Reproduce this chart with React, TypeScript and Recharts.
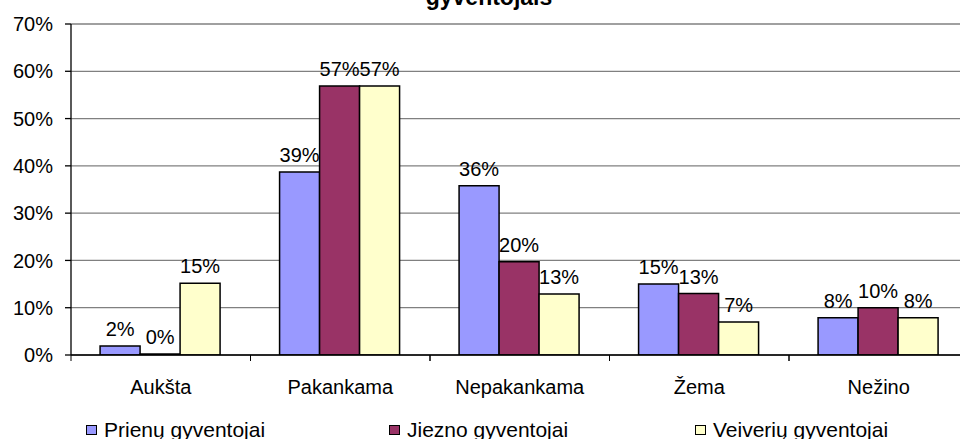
import React from 'react';
import { BarChart, Bar, XAxis, YAxis, CartesianGrid, Legend, LabelList } from 'recharts';

const categories = ['Aukšta', 'Pakankama', 'Nepakankama', 'Žema', 'Nežino'];
const prienu = [1.9, 38.7, 35.8, 15.0, 7.9];
const jiezno = [0, 56.9, 19.7, 13.0, 10.0];
const veiveriu = [15.2, 56.9, 12.9, 7.0, 7.9];
const seriesNames = ['Prienų gyventojai', 'Jiezno gyventojai', 'Veiverių gyventojai'];
const seriesColors = ['#9999FF', '#993366', '#FFFFCC'];
const yTicks = [0, 10, 20, 30, 40, 50, 60, 70];
const titleText = 'gyventojais';

const data = categories.map((c, i) => ({ cat: c, p: prienu[i], j: jiezno[i], v: veiveriu[i] }));
const keys = ['p', 'j', 'v'];

const FONT = '"Liberation Sans", Arial, sans-serif';

function CatTick(props: any) {
  const { x, y, payload } = props;
  const off = payload && typeof payload.offset === 'number' ? payload.offset : 0;
  const axisY = y - 25;
  return (
    <g>
      <line x1={x - off} x2={x - off} y1={axisY} y2={axisY + 6} stroke="#000" strokeWidth={1} />
      <line x1={x + off} x2={x + off} y1={axisY} y2={axisY + 6} stroke="#000" strokeWidth={1} />
      <text x={x} y={y + 14} textAnchor="middle" fontSize={20} fontFamily={FONT} fill="#000">
        {payload.value}
      </text>
    </g>
  );
}

const legendItemWidths = [303, 306, 260];

function LegendContent() {
  return (
    <div style={{ display: 'flex', justifyContent: 'flex-start', fontFamily: FONT, fontSize: 21, color: '#000', lineHeight: '23px' }}>
      {seriesNames.map((n, i) => (
        <div key={n} style={{ display: 'flex', alignItems: 'center', width: legendItemWidths[i], whiteSpace: 'nowrap' }}>
          <span style={{ display: 'inline-block', width: 9, height: 8, background: seriesColors[i], border: '1.5px solid #000', marginRight: 7 }} />
          <span>{n}</span>
        </div>
      ))}
    </div>
  );
}

export default function App() {
  return (
    <div style={{ position: 'fixed', left: 0, top: 0, width: 960, height: 439, overflow: 'hidden', background: '#fff' }}>
      <BarChart
        width={990}
        height={439}
        data={data}
        margin={{ top: 24, right: 21.5, left: 0, bottom: 44 }}
        barCategoryGap="16.2%"
        barGap={0}
      >
        <text x={489} y={4.5} textAnchor="middle" fontSize={23} fontWeight="bold" fontFamily={FONT} fill="#000">
          {titleText}
        </text>
        <CartesianGrid vertical={false} stroke="#808080" strokeWidth={1.3} />
        <XAxis
          dataKey="cat"
          height={40}
          tickSize={0}
          tickMargin={25}
          tick={<CatTick />}
          axisLine={{ stroke: '#000', strokeWidth: 1.3 }}
          tickLine={false}
          interval={0}
        />
        <YAxis
          width={71}
          domain={[0, 70]}
          ticks={yTicks}
          tickFormatter={(v: number) => `${v}%`}
          tickSize={6}
          tickMargin={12}
          tick={{ fill: '#000', fontSize: 20, fontFamily: FONT }}
          axisLine={{ stroke: '#000', strokeWidth: 1.3 }}
          tickLine={{ stroke: '#000', strokeWidth: 1.3 }}
          allowDataOverflow
        />
        <Legend
          layout="horizontal"
          verticalAlign="middle"
          align="center"
          content={<LegendContent />}
          wrapperStyle={{ position: 'absolute', top: 418, left: 86, width: 880, height: 23 }}
        />
        {keys.map((k, i) => (
          <Bar
            key={k}
            dataKey={k}
            name={seriesNames[i]}
            fill={seriesColors[i]}
            stroke="#000"
            strokeWidth={1.5}
            minPointSize={1}
            isAnimationActive={false}
          >
            <LabelList
              dataKey={k}
              position="top"
              offset={10}
              formatter={(v: any) => `${Math.round(Number(v))}%`}
              fill="#000"
              fontSize={20}
              fontFamily={FONT}
            />
          </Bar>
        ))}
      </BarChart>
    </div>
  );
}
